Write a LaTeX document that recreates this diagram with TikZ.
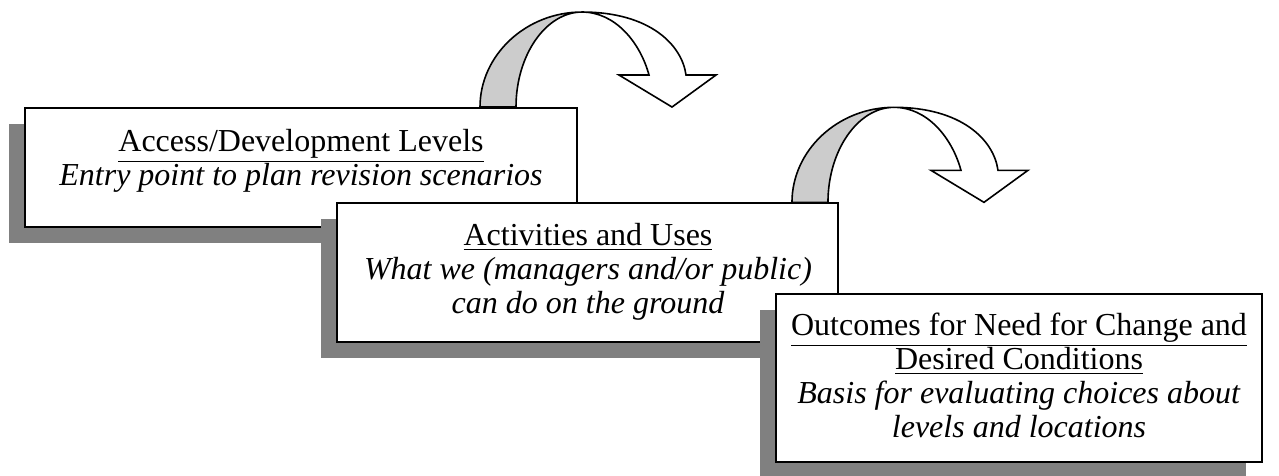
\documentclass[tikz,border=0pt]{standalone}
\usepackage{fontspec}
\setmainfont{Liberation Serif}
\usetikzlibrary{shadows}

% single spaced 12pt, underlines must not push lines apart
\newcommand\boxfont{\fontsize{12}{12.75}\selectfont\setlength{\lineskiplimit}{-10pt}}

\tikzset{curvedarrow/.pic={
  % grey back band, then the white front band with its head
  \draw[band] (0,0) .. controls (0,-52) and (46,-95) .. (102,-95)
    .. controls (66,-95) and (36,-52) .. (36,0) -- cycle;
  \draw[head] (102,-95) .. controls (170,-95) and (202,-62) .. (206,-32)
    -- (236,-32) -- (192,0) -- (139,-32) -- (169,-32)
    .. controls (160,-65) and (135,-95) .. (102,-95) -- cycle;
}}

\begin{document}
\begin{tikzpicture}[x=0.375pt,y=-0.375pt]
\tikzstyle{every node}=[inner sep=0pt]
\tikzstyle{box}=[draw,line width=0.75pt,fill=white,
  general shadow={fill=gray,shadow xshift=-6pt,shadow yshift=-6pt}]
\tikzstyle{boxtext}=[font=\boxfont,align=center,anchor=base]
\tikzstyle{band}=[draw,line width=0.6pt,fill=black!20]
\tikzstyle{head}=[draw,line width=0.6pt,fill=white]
\useasboundingbox (0,0) rectangle (1279,475);

\node[box,minimum width=207pt,minimum height=44.6pt] (acc) at (301,167.5) {};
\node[boxtext] (acctext) at (301,185)
  {\underline{Access/Development Levels}\\ \textit{Entry point to plan revision scenarios}};
\pic at ([shift={(456,0)}]acc.north west) {curvedarrow};

\node[box,minimum width=187.9pt,minimum height=52.1pt] (act) at (587.5,272.8) {};
\node[boxtext] (acttext) at (588,313)
  {\underline{Activities and Uses}\\ \textit{What we (managers and/or public)}\\ \textit{can do on the ground}};
\pic at ([shift={(456,0)}]act.north west) {curvedarrow};

\node[box,minimum width=182.3pt,minimum height=63pt] (out) at (1019,378) {};
\node[boxtext] (outtext) at (1019,437)
  {\underline{Outcomes for Need for Change and}\\ \underline{Desired Conditions}\\
   \textit{Basis for evaluating choices about}\\ \textit{levels and locations}};
\end{tikzpicture}
\end{document}
